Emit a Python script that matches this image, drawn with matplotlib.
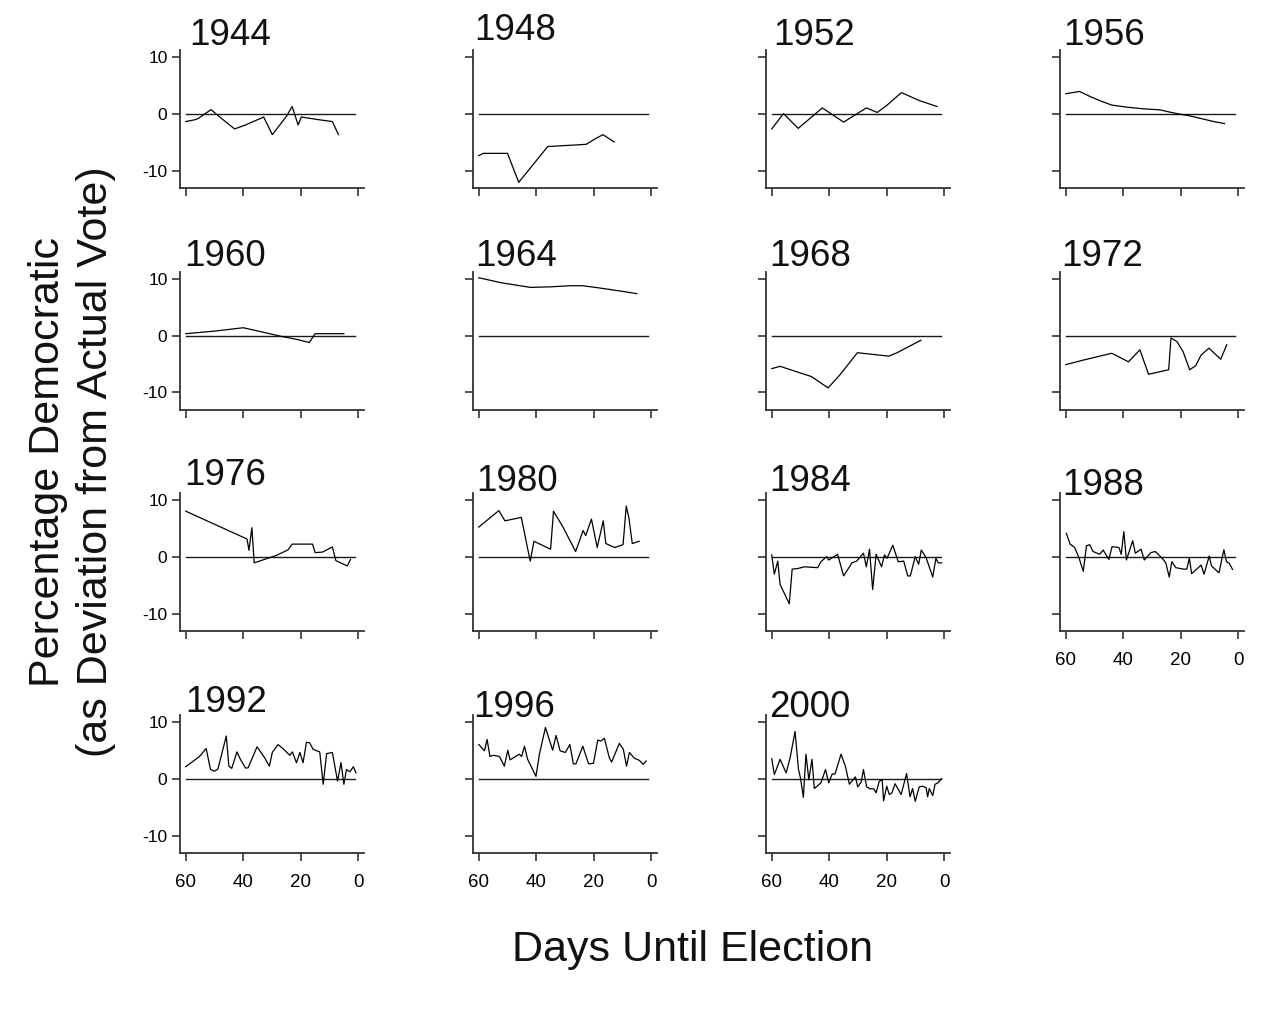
import matplotlib
matplotlib.use("Agg")
import matplotlib.pyplot as plt

plt.rcParams['font.family'] = ['Liberation Sans', 'DejaVu Sans']

# ---------------- data (days until election, % Democratic deviation) -------------
years = ["1944", "1948", "1952", "1956", "1960", "1964", "1968", "1972",
         "1976", "1980", "1984", "1988", "1992", "1996", "2000"]

days_1944 = [60, 57, 55.8, 51.2, 47.7, 43.0, 39.2, 32.9, 29.9, 25.0, 23.0, 20.9, 19.8, 13.4, 9.0, 6.9]
dem_1944 = [-1.3, -1.0, -0.8, 0.8, -0.7, -2.6, -1.9, -0.5, -3.6, -0.4, 1.35, -1.9, -0.5, -1.0, -1.3, -3.6]

days_1948 = [60, 58.4, 50.0, 46.1, 36.0, 30.7, 25.5, 22.6, 19.7, 16.8, 12.9]
dem_1948 = [-7.3, -6.9, -6.9, -12.0, -5.7, -5.55, -5.4, -5.3, -4.4, -3.6, -4.9]

days_1952 = [60, 55.9, 50.8, 42.4, 35.0, 27.1, 23.3, 20.1, 14.9, 8.7, 2.5]
dem_1952 = [-2.6, 0.1, -2.5, 1.1, -1.4, 1.1, 0.3, 1.5, 3.8, 2.4, 1.35]

days_1956 = [60, 55.2, 51.5, 48.0, 44.0, 38.8, 33.0, 27.2, 23.7, 20.3, 16.8, 12.7, 8.1, 4.8]
dem_1956 = [3.6, 4.0, 3.1, 2.35, 1.6, 1.24, 0.94, 0.76, 0.35, 0.0, -0.3, -0.8, -1.35, -1.65]

days_1960 = [60, 50, 40, 33, 27, 21, 17, 15, 10, 5]
dem_1960 = [0.35, 0.8, 1.4, 0.6, -0.1, -0.7, -1.2, 0.35, 0.35, 0.35]

days_1964 = [60, 52, 42, 35, 28, 24, 18, 10, 5]
dem_1964 = [10.2, 9.3, 8.5, 8.6, 8.8, 8.8, 8.4, 7.8, 7.4]

days_1968 = [60, 57.1, 46.2, 40.4, 36.3, 30.2, 24.8, 19.3, 16.4, 8.1]
dem_1968 = [-5.8, -5.4, -7.2, -9.2, -6.9, -3.0, -3.3, -3.6, -3.0, -0.8]

days_1972 = [60, 53.9, 44.0, 38.2, 34.2, 31.2, 27.7, 24.2, 23.4, 21.3, 19.2, 16.9, 14.8, 12.9, 10.2, 6.1, 4.0]
dem_1972 = [-5.1, -4.3, -3.1, -4.6, -2.5, -6.8, -6.4, -6.0, -0.4, -1.05, -2.8, -6.0, -5.3, -3.4, -2.2, -4.15, -1.6]

days_1976 = [60, 38.7, 38.0, 37.0, 36.2, 28.5, 24.4, 23.0, 15.9, 15.0, 12.4, 9.0, 7.8, 3.8, 2.7]
dem_1976 = [8.1, 3.2, 1.2, 5.2, -1.0, 0.3, 1.3, 2.3, 2.3, 0.8, 0.9, 1.8, -0.6, -1.55, -0.4]

days_1980 = [60, 53.0, 50.9, 45.2, 42.1, 40.8, 35.0, 34.0, 30.7, 26.3, 23.7, 22.8, 20.8, 18.8,
             16.7, 15.8, 12.7, 9.8, 8.7, 7.8, 6.6, 4.2]
dem_1980 = [5.3, 8.2, 6.4, 7.0, -0.7, 2.8, 1.4, 8.1, 5.3, 1.0, 4.7, 3.8, 6.7, 1.7,
            6.4, 2.4, 1.7, 2.2, 9.0, 7.0, 2.4, 2.8]

days_1984 = [60, 59.1, 57.9, 57.1, 53.9, 52.9, 51.0, 48.6, 44.0, 42.9, 40.9, 40.2, 37.1, 35.0,
             32.1, 30.5, 28.1, 27.1, 26.0, 24.9, 23.7, 21.8, 20.8, 19.9, 17.9, 16.0, 14.1,
             12.7, 11.8, 10.1, 8.9, 8.0, 6.3, 4.0, 2.9, 2.1, 0.9]
dem_1984 = [0.4, -3.0, -0.7, -4.8, -8.2, -2.1, -2.0, -1.7, -1.85, -0.8, 0.1, -0.5, 0.5, -3.3,
            -1.0, -0.7, 0.7, -1.7, 1.4, -5.7, 0.5, -1.7, 0.4, -0.2, 2.1, -0.8, -0.7,
            -3.3, -3.3, 0.1, -1.25, 1.25, -0.1, -3.5, -0.2, -1.0, -1.0]

days_1988 = [59.8, 58.5, 56.9, 55.4, 53.9, 52.8, 51.7, 50.5, 48.2, 47.0, 45.0, 43.9, 41.5, 40.7,
             39.8, 38.9, 36.7, 35.8, 33.8, 32.7, 30.4, 28.9, 26.6, 25.2, 24.0, 23.1, 21.7,
             19.1, 17.9, 17.0, 16.2, 12.9, 11.9, 10.1, 9.3, 6.7, 5.0, 4.1, 3.1, 2.0]
dem_1988 = [4.2, 2.3, 1.7, -0.1, -2.5, 2.0, 2.2, 1.0, 0.5, 1.25, -0.4, 1.85, 1.7, 0.5,
            4.5, -0.5, 2.9, 0.7, 1.4, -0.5, 0.8, 1.0, -0.1, -1.0, -3.5, -0.8, -1.85,
            -2.1, -2.1, -0.2, -2.9, -1.4, -3.0, 0.2, -1.55, -2.75, 1.3, -0.8, -1.1, -2.15]

days_1992 = [60, 55.2, 52.9, 51.4, 50.0, 48.8, 45.9, 45.0, 44.0, 42.2, 41.0, 39.2, 38.3, 35.2,
             32.6, 30.9, 29.9, 27.9, 25.9, 23.8, 22.9, 21.5, 20.3, 19.2, 18.0, 16.9, 15.7,
             13.4, 12.2, 11.0, 9.0, 7.2, 6.0, 5.0, 4.1, 2.9, 1.7, 0.8]
dem_1992 = [2.2, 4.0, 5.4, 1.7, 1.4, 1.8, 7.6, 2.3, 1.9, 4.8, 3.5, 1.95, 2.0, 5.7,
            3.8, 2.3, 4.7, 6.1, 5.25, 4.2, 4.8, 2.9, 4.7, 2.9, 6.5, 6.4, 5.25,
            4.8, -0.9, 4.5, 4.7, -0.35, 2.9, -0.9, 1.7, 1.3, 2.2, 1.1]

days_1996 = [60, 58.0, 57.1, 56.1, 54.9, 52.8, 51.1, 49.9, 49.1, 45.9, 45.1, 44.1, 43.0, 40.1,
             38.9, 36.8, 34.3, 33.1, 31.7, 29.9, 28.3, 27.1, 26.2, 23.8, 21.8, 20.1, 18.6,
             17.5, 16.3, 14.6, 13.8, 11.1, 9.7, 8.6, 7.6, 5.9, 4.1, 2.8, 1.8]
dem_1996 = [6.1, 5.0, 7.0, 4.0, 4.2, 4.0, 2.3, 5.1, 3.4, 4.4, 4.0, 5.8, 3.5, 0.5,
            4.4, 9.1, 5.1, 7.7, 5.0, 4.7, 6.1, 2.7, 2.7, 5.8, 2.7, 2.8, 6.9,
            6.7, 7.2, 3.8, 3.0, 6.3, 5.25, 2.3, 4.7, 3.7, 3.3, 2.6, 3.2]

days_2000 = [60, 59.1, 57.1, 55.0, 53.6, 51.9, 50.7, 50.0, 49.0, 48.1, 47.1, 46.0, 45.2, 42.9,
             41.3, 40.2, 39.0, 38.0, 35.9, 34.4, 33.0, 30.9, 30.1, 28.9, 28.1, 27.0, 25.8,
             24.5, 23.7, 22.6, 21.6, 21.1, 20.0, 19.1, 18.2, 17.1, 15.0, 13.1, 11.9, 11.0,
             10.1, 8.7, 7.5, 6.3, 5.8, 5.2, 4.0, 3.2, 2.2, 0.9]
dem_2000 = [3.6, 0.8, 3.5, 1.1, 3.8, 8.4, 1.7, 0.2, -3.2, 4.4, -0.1, 3.5, -1.65, -0.65,
            1.7, -0.65, 0.9, 0.9, 4.4, 2.3, -0.9, 0.4, -1.35, -0.5, 1.7, -1.35, -1.7,
            -1.7, -2.4, -0.35, -0.1, -3.8, -1.25, -2.7, -2.4, -0.8, -2.7, 1.0, -3.1, -1.65,
            -3.9, -1.35, -1.25, -1.5, -3.1, -1.65, -2.9, -0.9, -0.65, 0.1]

series = {
    "1944": (days_1944, dem_1944), "1948": (days_1948, dem_1948),
    "1952": (days_1952, dem_1952), "1956": (days_1956, dem_1956),
    "1960": (days_1960, dem_1960), "1964": (days_1964, dem_1964),
    "1968": (days_1968, dem_1968), "1972": (days_1972, dem_1972),
    "1976": (days_1976, dem_1976), "1980": (days_1980, dem_1980),
    "1984": (days_1984, dem_1984), "1988": (days_1988, dem_1988),
    "1992": (days_1992, dem_1992), "1996": (days_1996, dem_1996),
    "2000": (days_2000, dem_2000),
}

x_ticks = [60, 40, 20, 0]
x_tick_labels = ["60", "40", "20", "0"]
y_ticks = [10, 0, -10]
y_tick_labels = ["10", "0", "-10"]

# ---------------- layout (pixels) -------------
W, H = 1267, 1024
col_left = [180, 473, 766, 1060]
row_top = [50, 271.5, 493, 715]
ax_w, ax_h = 184, 138
# title offsets: (dx from left spine, baseline above top)
title_off = {
    "1944": (9, 5), "1948": (1, 10), "1952": (7, 5), "1956": (3, 5),
    "1960": (4, 5), "1964": (2, 6), "1968": (3, 5), "1972": (1, 6),
    "1976": (4, 8), "1980": (3, 2), "1984": (3, 2), "1988": (2, -2),
    "1992": (5, 3), "1996": (0, -2), "2000": (3, -2),
}
bottom_of_col = {"1988", "1992", "1996", "2000"}

fig = plt.figure(figsize=(W / 100, H / 100), dpi=100)
ink = "#1a1a1a"

for i, yr in enumerate(years):
    r, c = divmod(i, 4)
    L = col_left[c]
    T = row_top[r]
    ax = fig.add_axes([L / W, 1 - (T + ax_h) / H, ax_w / W, ax_h / H])
    d, v = series[yr]
    ax.plot([60, 1], [0, 0], color=ink, lw=1.0)
    ax.plot(d, v, color="black", lw=0.9)
    ax.set_xlim(62, -2)
    ax.set_ylim(-13, 11.3)
    for s in ("top", "right"):
        ax.spines[s].set_visible(False)
    for s in ("left", "bottom"):
        ax.spines[s].set_color("#333333")
        ax.spines[s].set_linewidth(1.3)
    ax.set_xticks(x_ticks)
    ax.set_yticks(y_ticks)
    ax.tick_params(axis="both", length=6, width=1.2, color="#333333",
                   labelcolor="black")
    ax.tick_params(axis="x", pad=9, labelsize=13.5)
    ax.tick_params(axis="y", pad=3, labelsize=12.5)
    if c == 0:
        ax.set_yticklabels(y_tick_labels)
    else:
        ax.set_yticklabels([])
    if yr in bottom_of_col:
        ax.set_xticklabels(x_tick_labels)
    else:
        ax.set_xticklabels([])
    dx, dy = title_off[yr]
    fig.text((L + dx) / W, 1 - (T - dy) / H, yr, fontsize=26.5,
             ha="left", va="baseline", color="#111111")

fig.text(72 / W, 1 - 462 / H,
         "Percentage Democratic\n(as Deviation from Actual Vote)",
         rotation=90, ha="center", va="center", multialignment="center",
         fontsize=31, linespacing=1.25, color="#111111")
fig.text(692 / W, 1 - 950 / H, "Days Until Election", ha="center", va="center",
         fontsize=31, color="#111111")

fig.savefig("out.png", dpi=100)
